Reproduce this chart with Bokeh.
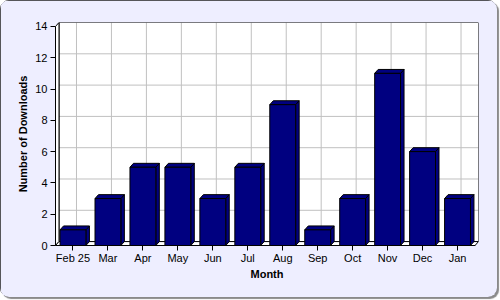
from bokeh.plotting import figure
from bokeh.models import Range1d, FixedTicker
from bokeh.embed import file_html
from bokeh.resources import INLINE

months = ["Feb 25", "Mar", "Apr", "May", "Jun", "Jul", "Aug", "Sep", "Oct", "Nov", "Dec", "Jan"]
downloads = [1, 3, 5, 5, 3, 5, 9, 1, 3, 11, 6, 3]
y_ticks = [0, 2, 4, 6, 8, 10, 12, 14]

BG = "#EEEEFF"
BAR = "#000080"
GRID = "#C0C0C0"
FONT = "Liberation Sans"
DX = 0.1    # depth offset in category units
DY = 0.25   # depth offset in value units
HW = 0.37   # half bar width
n = len(months)
ymax = y_ticks[-1]
xs = list(range(n))

p = figure(width=497, height=297, output_backend="svg", toolbar_location=None,
           x_range=Range1d(-0.5, n - 0.5 + DX), y_range=Range1d(0, ymax + DY))
p.min_border_left = 55
p.min_border_right = 19
p.min_border_top = 22
p.min_border_bottom = 52
p.background_fill_color = BG
p.border_fill_color = BG
p.outline_line_color = None
p.xgrid.visible = False
p.ygrid.visible = False
p.styles = {"border-radius": "9px", "overflow": "hidden",
            "outline": "1px solid #222222", "outline-offset": "-1px",
            "box-shadow": "2px 2px 1px #8a8a8a"}

# back wall
p.quad(left=-0.5 + DX, right=n - 0.5 + DX, bottom=DY, top=ymax + DY,
       fill_color="white", line_color=None)
# grid on back wall
p.segment(x0=[x + DX for x in xs], y0=[DY] * n, x1=[x + DX for x in xs], y1=[ymax + DY] * n,
          line_color=GRID, line_width=1)
inner = y_ticks[1:-1]
p.segment(x0=[-0.5 + DX] * len(inner), y0=[t + DY for t in inner],
          x1=[n - 0.5 + DX] * len(inner), y1=[t + DY for t in inner],
          line_color=GRID, line_width=1)
p.quad(left=-0.5 + DX, right=n - 0.5 + DX, bottom=DY, top=ymax + DY,
       fill_color=None, line_color="black", line_width=1)
# left wall and floor
p.patch(x=[-0.5, -0.5, -0.5 + DX, -0.5 + DX], y=[0, ymax, ymax + DY, DY],
        fill_color="white", line_color="black", line_width=1)
p.patch(x=[-0.5, n - 0.5, n - 0.5 + DX, -0.5 + DX], y=[0, 0, DY, DY],
        fill_color="white", line_color="black", line_width=1)

# bars: side, top, front
side_x = [[x + HW, x + HW + DX, x + HW + DX, x + HW] for x in xs]
side_y = [[0, DY, v + DY, v] for v in downloads]
top_x = [[x - HW, x + HW, x + HW + DX, x - HW + DX] for x in xs]
top_y = [[v, v, v + DY, v + DY] for v in downloads]
p.patches(xs=side_x, ys=side_y, fill_color=BAR, line_color="black", line_width=1)
p.patches(xs=top_x, ys=top_y, fill_color=BAR, line_color="black", line_width=1)
p.quad(left=[x - HW for x in xs], right=[x + HW for x in xs], bottom=0, top=downloads,
       fill_color=BAR, line_color="black", line_width=1)

# axes
for ax in (p.xaxis[0], p.yaxis[0]):
    ax.axis_line_color = "black"
    ax.major_tick_line_color = "black"
    ax.major_tick_out = 5
    ax.major_tick_in = 0
    ax.minor_tick_line_color = None
    ax.major_label_text_font = FONT
    ax.major_label_text_font_size = "11px"
    ax.major_label_text_color = "black"
    ax.axis_label_text_font = FONT
    ax.axis_label_text_font_size = "11px"
    ax.axis_label_text_font_style = "bold"
    ax.axis_label_text_color = "black"

p.yaxis.ticker = FixedTicker(ticks=y_ticks)
p.yaxis.bounds = (0, ymax)
p.yaxis.axis_label = "Number of Downloads"
p.yaxis.major_label_standoff = 3
p.yaxis.axis_label_standoff = 3

p.xaxis.ticker = FixedTicker(ticks=xs)
p.xaxis.major_label_overrides = {i: m for i, m in enumerate(months)}
p.xaxis.bounds = (-0.5, n - 0.5)
p.xaxis.axis_label = "Month"
p.xaxis.major_label_standoff = 1
p.xaxis.axis_label_standoff = 1

open("out.html", "w").write(file_html(p, INLINE))
